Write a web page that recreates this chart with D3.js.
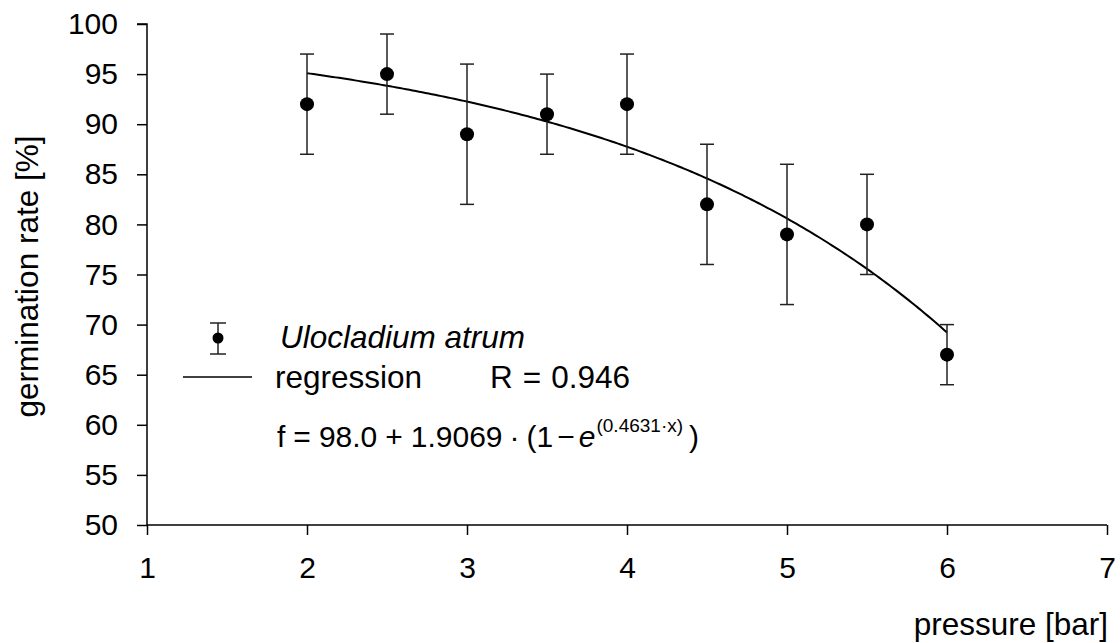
<!DOCTYPE html>
<html>
<head>
<meta charset="utf-8">
<script src="https://cdn.jsdelivr.net/npm/d3@7"></script>
<style>
  html, body { margin: 0; padding: 0; background: #fff; }
  svg { display: block; }
  text { font-family: "Liberation Sans", Arial, sans-serif; fill: #000; }
</style>
</head>
<body>
<svg id="chart" width="1120" height="643"></svg>
<script>
// Germination rate of Ulocladium atrum under increasing pressure
const pressure = [2, 2.5, 3, 3.5, 4, 4.5, 5, 5.5, 6];
const germination = [92, 95, 89, 91, 92, 82, 79, 80, 67];
const errLow = [87, 91, 82, 87, 87, 76, 72, 75, 64];
const errHigh = [97, 99, 96, 95, 97, 88, 86, 85, 70];

const xTicks = [1, 2, 3, 4, 5, 6, 7];
const yTicks = [50, 55, 60, 65, 70, 75, 80, 85, 90, 95, 100];

// Regression f = a + b * (1 - e^(k x)), fitted over 2..6 bar
const regA = 98.0, regB = 1.9069, regK = 0.4631;
const regR = 0.946;
const regRange = [2, 6];

const svg = d3.select("#chart");
const plotLeft = 147, plotRight = 1107, plotTop = 24, plotBottom = 525;
const fs = 30;     // tick labels
const fsLab = 31.5; // titles and legend

const x = d3.scaleLinear().domain([1, 7]).range([plotLeft, plotRight]);
const y = d3.scaleLinear().domain([50, 100]).range([plotBottom, plotTop]);

const axisColor = "#000";

// y axis
const gy = svg.append("g").attr("transform", `translate(${plotLeft},0)`)
  .call(d3.axisLeft(y).tickValues(yTicks).tickFormat(d3.format("d")).tickSize(10).tickPadding(19));
// x axis
const gx = svg.append("g").attr("transform", `translate(0,${plotBottom})`)
  .call(d3.axisBottom(x).tickValues(xTicks).tickFormat(d3.format("d")).tickSize(10).tickPadding(22));

[gx, gy].forEach(g => {
  g.select(".domain").attr("stroke", axisColor).attr("stroke-width", 1.5);
  g.selectAll(".tick line").attr("stroke", axisColor).attr("stroke-width", 1.5);
  g.selectAll(".tick text").attr("font-size", fs)
    .attr("font-family", "Liberation Sans, Arial, sans-serif").attr("fill", "#000");
});
gy.select(".domain").attr("d", `M-10,${plotTop}H0V${plotBottom}`);
gx.select(".domain").attr("d", `M${plotLeft},0V0H${plotRight}`);

// axis titles
svg.append("text")
  .attr("transform", `translate(38,${(plotTop + plotBottom) / 2 + 2}) rotate(-90)`)
  .attr("text-anchor", "middle").attr("font-size", fsLab)
  .text("germination rate [%]");
svg.append("text")
  .attr("x", plotRight + 1).attr("y", 635)
  .attr("text-anchor", "end").attr("font-size", fsLab)
  .text("pressure [bar]");

// regression curve
const curveXs = d3.range(regRange[0], regRange[1] + 1e-9, 0.02);
const reg = v => regA + regB * (1 - Math.exp(regK * v));
svg.append("path")
  .datum(curveXs)
  .attr("fill", "none").attr("stroke", "#000").attr("stroke-width", 2)
  .attr("d", d3.line().x(d => x(d)).y(d => y(reg(d))));

// error bars and points
const pts = pressure.map((p, i) => ({ p, g: germination[i], lo: errLow[i], hi: errHigh[i] }));
const eb = svg.append("g").attr("stroke", "#222").attr("stroke-width", 1.5);
const capW = 7;
pts.forEach(d => {
  eb.append("line").attr("x1", x(d.p)).attr("x2", x(d.p)).attr("y1", y(d.lo)).attr("y2", y(d.hi));
  eb.append("line").attr("x1", x(d.p) - capW).attr("x2", x(d.p) + capW).attr("y1", y(d.lo)).attr("y2", y(d.lo));
  eb.append("line").attr("x1", x(d.p) - capW).attr("x2", x(d.p) + capW).attr("y1", y(d.hi)).attr("y2", y(d.hi));
});
svg.append("g").selectAll("circle").data(pts).join("circle")
  .attr("cx", d => x(d.p)).attr("cy", d => y(d.g)).attr("r", 7).attr("fill", "#000");

// legend
const lg = svg.append("g");
const lx = 218, ly = 338;
lg.append("line").attr("x1", lx).attr("x2", lx).attr("y1", ly - 15).attr("y2", ly + 16)
  .attr("stroke", "#222").attr("stroke-width", 1.5);
lg.append("line").attr("x1", lx - 8).attr("x2", lx + 8).attr("y1", ly - 15).attr("y2", ly - 15)
  .attr("stroke", "#222").attr("stroke-width", 1.5);
lg.append("line").attr("x1", lx - 8).attr("x2", lx + 8).attr("y1", ly + 16).attr("y2", ly + 16)
  .attr("stroke", "#222").attr("stroke-width", 1.5);
lg.append("circle").attr("cx", lx).attr("cy", ly).attr("r", 5.5).attr("fill", "#000");
lg.append("text").attr("x", 280).attr("y", 348).attr("font-size", fsLab)
  .attr("font-style", "italic").text("Ulocladium atrum");

lg.append("line").attr("x1", 183).attr("x2", 252).attr("y1", 377).attr("y2", 377)
  .attr("stroke", "#000").attr("stroke-width", 1.5);
lg.append("text").attr("x", 275).attr("y", 388).attr("font-size", fsLab).text("regression");
const rt = lg.append("text").attr("x", 490).attr("y", 388).attr("font-size", fsLab);
rt.append("tspan").text("R");
rt.append("tspan").attr("dx", 10).text("=");
rt.append("tspan").attr("dx", 10).text(regR.toFixed(3));

// regression formula, set piece by piece with small gaps
const fy = 447;
const parts = [
  { t: "f", gap: 0 },
  { t: "=", gap: 8 },
  { t: regA.toFixed(1), gap: 8 },
  { t: "+", gap: 8 },
  { t: regB.toFixed(4), gap: 8 },
  { t: "·", gap: 7 },
  { t: "(1", gap: 7 },
  { t: "−", gap: 4 },
  { t: "e", gap: 4, italic: true },
  { t: `(${regK}·x)`, gap: 1, sup: true },
  { t: ")", gap: 6 }
];
const ft = lg.append("text").attr("x", 277).attr("y", fy).attr("font-size", 30);
parts.forEach((p, i) => {
  const prevSup = i > 0 && parts[i - 1].sup;
  ft.append("tspan")
    .attr("dx", p.gap)
    .attr("dy", p.sup ? -15 : (prevSup ? 15 : 0))
    .attr("font-size", p.sup ? 19 : null)
    .attr("font-style", p.italic ? "italic" : null)
    .text(p.t);
});
</script>
</body>
</html>
